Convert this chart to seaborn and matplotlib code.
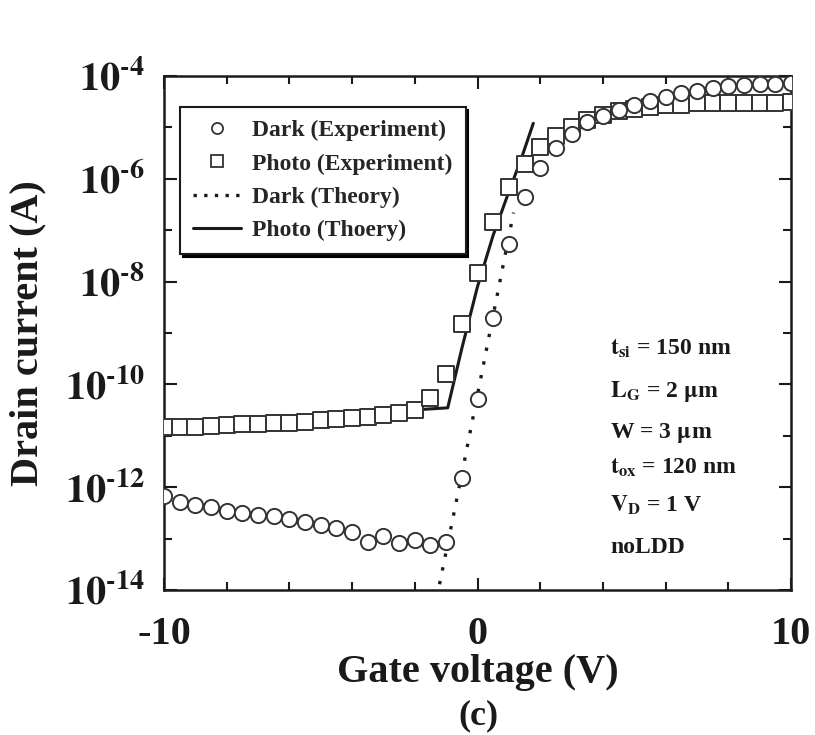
import matplotlib
matplotlib.use("Agg")
import matplotlib.pyplot as plt
import seaborn as sns
import pandas as pd
from matplotlib.lines import Line2D
from matplotlib.ticker import FixedLocator, NullFormatter

# ---------------- data ----------------
gate_v = [-10.0, -9.5, -9.0, -8.5, -8.0, -7.5, -7.0, -6.5, -6.0, -5.5,
          -5.0, -4.5, -4.0, -3.5, -3.0, -2.5, -2.0, -1.5, -1.0, -0.5,
          0.0, 0.5, 1.0, 1.5, 2.0, 2.5, 3.0, 3.5, 4.0, 4.5,
          5.0, 5.5, 6.0, 6.5, 7.0, 7.5, 8.0, 8.5, 9.0, 9.5, 10.0]

dark_exp = [6.6e-13, 5.2e-13, 4.5e-13, 4.2e-13, 3.5e-13, 3.1e-13, 2.9e-13, 2.7e-13, 2.4e-13, 2.1e-13,
            1.8e-13, 1.6e-13, 1.35e-13, 8.7e-14, 1.1e-13, 8.1e-14, 9.3e-14, 7.6e-14, 8.7e-14, 1.5e-12,
            5.2e-11, 2.0e-9, 5.4e-8, 4.4e-7, 1.6e-6, 3.9e-6, 7.6e-6, 1.26e-5, 1.66e-5, 2.2e-5,
            2.75e-5, 3.3e-5, 3.9e-5, 4.6e-5, 5.1e-5, 5.75e-5, 6.3e-5, 6.6e-5, 6.9e-5, 7.1e-5, 7.2e-5]

photo_exp = [1.5e-11, 1.5e-11, 1.5e-11, 1.55e-11, 1.62e-11, 1.66e-11, 1.66e-11, 1.74e-11, 1.74e-11, 1.86e-11,
             2.04e-11, 2.1e-11, 2.2e-11, 2.3e-11, 2.5e-11, 2.8e-11, 3.2e-11, 5.5e-11, 1.6e-10, 1.5e-9,
             1.5e-8, 1.45e-7, 6.8e-7, 1.9e-6, 4.2e-6, 6.8e-6, 1.02e-5, 1.38e-5, 1.74e-5, 2.04e-5,
             2.3e-5, 2.5e-5, 2.75e-5, 2.75e-5, 2.95e-5, 2.95e-5, 2.95e-5, 3.0e-5, 3.0e-5, 3.0e-5, 3.1e-5]

dark_th_v = [-1.3, -0.5, 0.0, 0.5, 1.15]
dark_th_i = [7e-15, 1.8e-12, 6.3e-11, 2.2e-9, 2.2e-7]

photo_th_v = [-10.0, -8.0, -6.0, -4.0, -2.0, -0.95, -0.5, 0.0, 0.5, 1.0, 1.4, 1.78]
photo_th_i = [1.5e-11, 1.6e-11, 1.75e-11, 2.2e-11, 3.2e-11, 3.5e-11, 5e-10, 8e-9, 8e-8, 5.6e-7, 2.5e-6, 1.2e-5]

legend_labels = ["Dark (Experiment)", "Photo (Experiment)", "Dark (Theory)", "Photo (Thoery)"]
x_ticks = [-10, 0, 10]
x_tick_labels = ["-10", "0", "10"]
y_ticks = [1e-14, 1e-12, 1e-10, 1e-8, 1e-6, 1e-4]
y_tick_labels = [r"$\mathbf{10^{\text{-}14}}$", r"$\mathbf{10^{\text{-}12}}$", r"$\mathbf{10^{\text{-}10}}$",
                 r"$\mathbf{10^{\text{-}8}}$", r"$\mathbf{10^{\text{-}6}}$", r"$\mathbf{10^{\text{-}4}}$"]
params = [r"$\mathbf{t}_{\mathbf{si}}$ = 150 nm",
          r"$\mathbf{L}_{\mathbf{G}}$ = 2 $\mathbf{\mu}$m",
          r"W = 3 $\mathbf{\mu}$m",
          r"$\mathbf{t}_{\mathbf{ox}}$ = 120 nm",
          r"$\mathbf{V}_{\mathbf{D}}$ = 1 V",
          "noLDD"]

# ---------------- style ----------------
sns.set_style("ticks")
plt.rcParams["font.family"] = ["Liberation Serif", "DejaVu Serif"]
plt.rcParams["font.weight"] = "bold"
plt.rcParams["mathtext.fontset"] = "stix"

INK = "#1a1a1a"
W, H = 815, 735
fig = plt.figure(figsize=(W / 100, H / 100), dpi=100)
fig.patch.set_facecolor("white")
ax = fig.add_axes([164 / W, 1 - 590 / H, 627 / W, 514 / H])

df_exp = pd.DataFrame({"V": gate_v, "dark": dark_exp, "photo": photo_exp})
df_dth = pd.DataFrame({"V": dark_th_v, "I": dark_th_i})
df_pth = pd.DataFrame({"V": photo_th_v, "I": photo_th_i})

sns.lineplot(data=df_pth, x="V", y="I", ax=ax, color=INK, lw=2.2, sort=False, zorder=2)
sns.lineplot(data=df_dth, x="V", y="I", ax=ax, color=INK, lw=2.4, sort=False, zorder=2,
             dashes=False, linestyle=(0, (1, 3.2)))
sns.scatterplot(data=df_exp, x="V", y="photo", ax=ax, marker="s", s=120,
                facecolor="white", edgecolor="#333333", linewidth=1.4, zorder=3)
sns.scatterplot(data=df_exp, x="V", y="dark", ax=ax, marker="o", s=120,
                facecolor="white", edgecolor="#333333", linewidth=1.4, zorder=4)

ax.set_yscale("log")
ax.set_xlim(-10, 10)
ax.set_ylim(1e-14, 1e-4)

ax.xaxis.set_major_locator(FixedLocator(x_ticks))
ax.set_xticklabels(x_tick_labels)
ax.xaxis.set_minor_locator(FixedLocator([-8, -6, -4, -2, 2, 4, 6, 8]))
ax.yaxis.set_major_locator(FixedLocator(y_ticks))
ax.set_yticklabels(y_tick_labels)
ax.yaxis.set_minor_locator(FixedLocator([1e-13, 1e-11, 1e-9, 1e-7, 1e-5]))
ax.yaxis.set_minor_formatter(NullFormatter())

ax.tick_params(which="both", direction="in", top=True, right=True, color=INK, width=1.5)
ax.tick_params(which="major", length=9)
ax.tick_params(which="minor", length=6)
ax.tick_params(axis="x", which="major", labelsize=29, pad=19, colors=INK)
ax.tick_params(axis="y", which="major", labelsize=29, pad=14, colors=INK)
for s in ax.spines.values():
    s.set_linewidth(1.8)
    s.set_color(INK)

ax.set_xlabel("Gate voltage (V)", fontsize=29, fontweight="bold", color=INK)
ax.set_ylabel("Drain current (A)", fontsize=29, fontweight="bold", color=INK)
ax.xaxis.set_label_coords(0.5, -0.124)
ax.yaxis.set_label_coords(-0.187, 0.5)
fig.text(478 / W, 1 - 716 / H, "(c)", fontsize=26, fontweight="bold", color=INK,
         ha="center", va="center")

handles = [
    Line2D([], [], ls="none", marker="o", ms=8, mfc="white", mec="#333333", mew=1.3),
    Line2D([], [], ls="none", marker="s", ms=8, mfc="white", mec="#333333", mew=1.3),
    Line2D([], [], color=INK, lw=2.4, linestyle=(0, (1, 2.2))),
    Line2D([], [], color=INK, lw=2.2),
]
leg = ax.legend(handles, legend_labels, loc="upper left", bbox_to_anchor=(0.026, 0.94),
                borderaxespad=0, frameon=True, fancybox=False,
                shadow={"color": "black", "alpha": 1.0},
                prop={"family": "Liberation Serif", "weight": "bold", "size": 17},
                handlelength=2.0, handletextpad=0.5, labelspacing=0.5, borderpad=0.55)
leg.get_frame().set_edgecolor(INK)
leg.get_frame().set_linewidth(1.5)
leg.set_zorder(6)

baselines = [355, 397, 438, 474, 512, 553]
for txt, yb in zip(params, baselines):
    fig.text(610 / W, 1 - yb / H, txt, fontsize=17, fontweight="bold", color=INK,
             ha="left", va="baseline")

fig.savefig("out.png", dpi=100, facecolor="white")
